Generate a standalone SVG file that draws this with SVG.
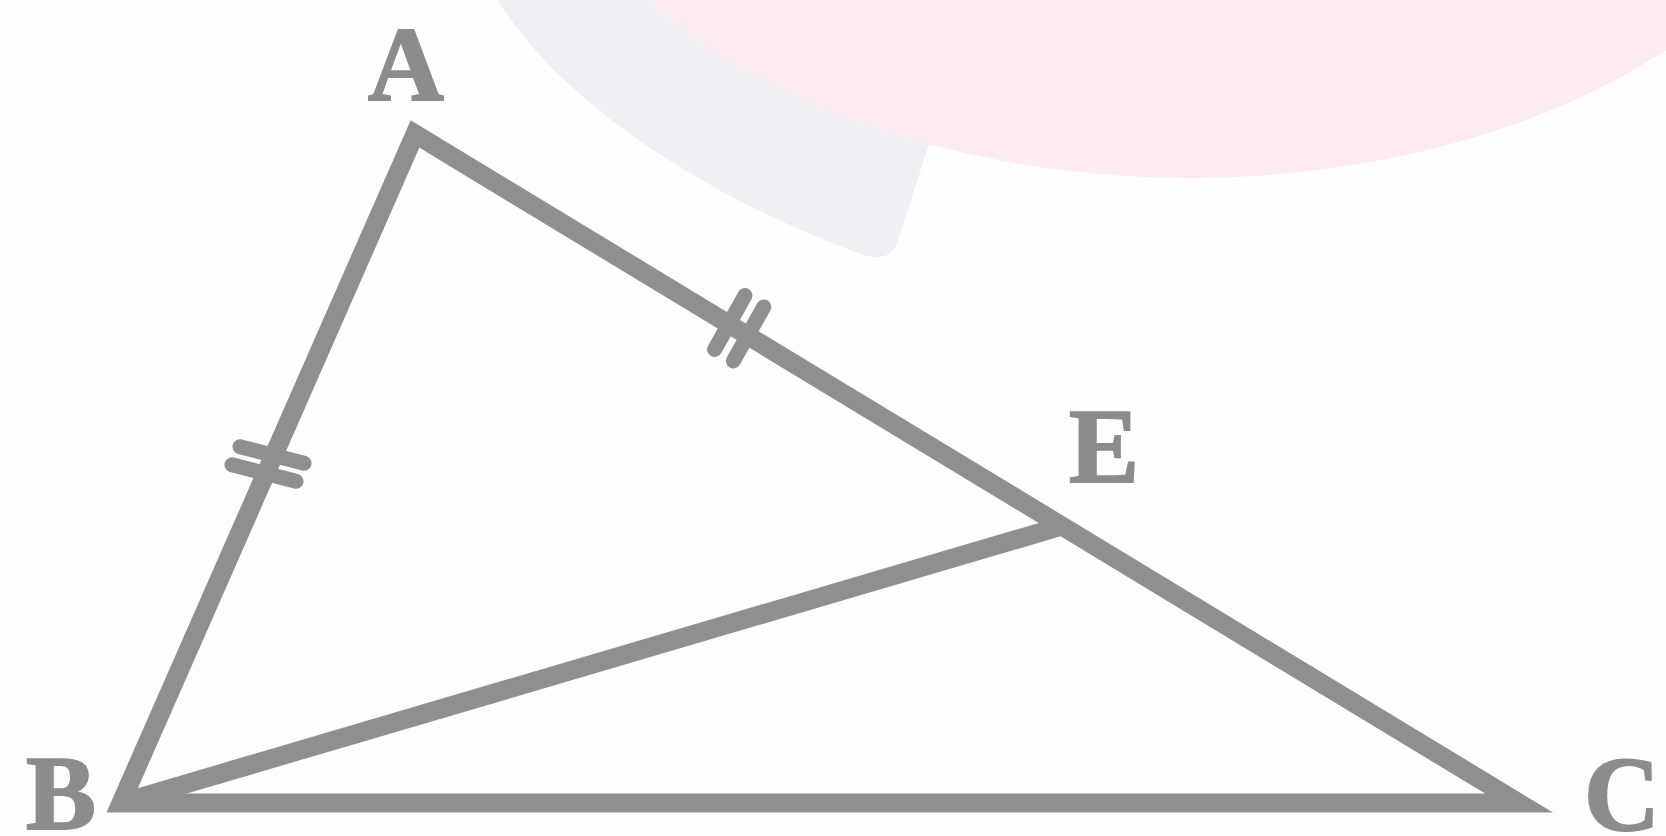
<svg xmlns="http://www.w3.org/2000/svg" width="1666" height="836" viewBox="0 0 1666 836">
<style>
.edge{fill:none;stroke:#8f8f91;stroke-width:19;stroke-linejoin:miter;stroke-miterlimit:6}
.tick{fill:none;stroke:#8f8f91;stroke-width:15;stroke-linecap:round}
.lbl{font-family:"Liberation Serif","Times New Roman",serif;font-weight:bold;font-size:105px;fill:#8c8c8e;stroke:#8c8c8e;stroke-width:2;text-anchor:middle}
</style>
<rect width="1666" height="836" fill="#fefefe"/>
<g id="watermark">
<path d="M 498 0 C 555 95 690 190 860 254 Q 892 264 898 240 L 940 110 L 940 0 Z" fill="#efeff4"/>
<ellipse cx="1190" cy="-245" rx="665" ry="423" fill="#fcebf0"/>
</g>
<g id="connectors">
<polygon class="edge" points="415,134 121,803 1519,803"/>
<line class="edge" x1="121" y1="803" x2="1062" y2="526"/>
<line class="tick" x1="240" y1="446.7" x2="304" y2="463.3"/>
<line class="tick" x1="232" y1="464.7" x2="296" y2="481.3"/>
<line class="tick" x1="745" y1="295.5" x2="714.6" y2="349.5"/>
<line class="tick" x1="763.8" y1="306.9" x2="733.4" y2="360.9"/>
</g>
<g id="node-A"><text class="lbl" x="406" y="100">A</text></g>
<g id="node-B"><text class="lbl" x="61" y="829">B</text></g>
<g id="node-C"><text class="lbl" x="1622" y="830">C</text></g>
<g id="node-E"><text class="lbl" x="1104" y="482">E</text></g>
</svg>
